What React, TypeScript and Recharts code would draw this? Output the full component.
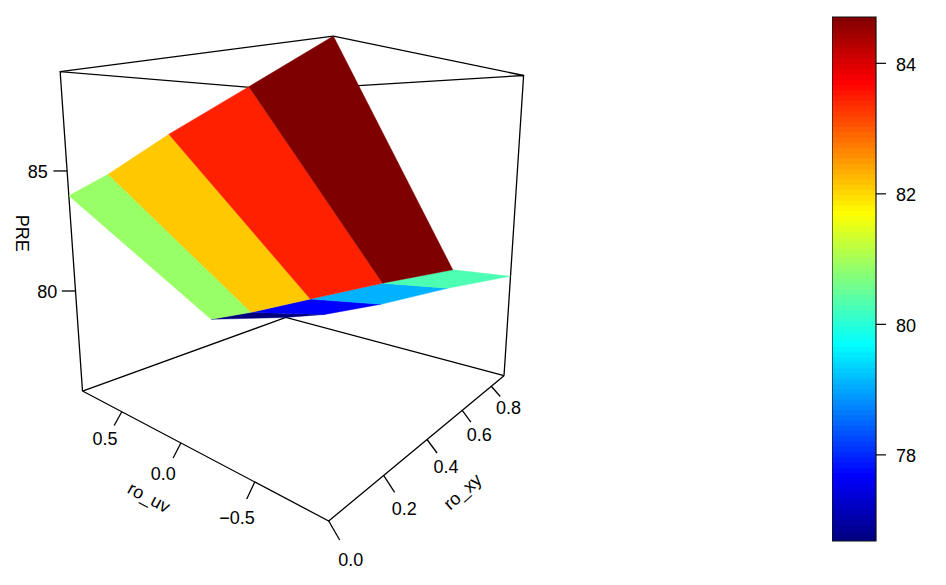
import React from "react";
import { ComposedChart, Scatter, XAxis, YAxis, ReferenceArea } from "recharts";

// ---- data (axes and surface values) ----
const roXyGrid = [0, 0.5, 0.9];
const roUvGrid = [-0.9, -0.5, 0, 0.5, 0.9];
const preAtRoXy0 = [88.87, 87.8, 86.47, 85.0, 84.0];
const preAtRoXy5 = [81.6, 80.6, 79.25, 77.89, 76.91];
const preAtRoXy9 = [80.23, 79.16, 77.65, 76.34, 75.54];
const preRows = [preAtRoXy0, preAtRoXy5, preAtRoXy9];

const roXyRange = [0, 0.9];
const roUvRange = [-0.9, 0.9];
const preRange = [75.54, 88.87];

const roXyTicks = [0, 0.2, 0.4, 0.6, 0.8];
const roUvTicks = [-0.5, 0, 0.5];
const preTicks = [80, 85];
const colorBarTicks = [78, 80, 82, 84];
const colorBarRange = [76.68, 84.71];

// ---- styles ----
const nearRowColors = ["#7F0000", "#FF2000", "#FFC800", "#99FF66"];
const farRowColors = ["#4CFFB2", "#00B2FF", "#0000FF", "#00007F"];
const jetStops = ["#00007F", "#0000FF", "#007FFF", "#00FFFF", "#7FFF7F", "#FFFF00", "#FF7F00", "#FF0000", "#7F0000"];
const BAND_COUNT = 100;
const FONT = "Liberation Sans, Arial, sans-serif";
const FS = 18;

const roXyTickEnd = [[11, 19], [11, 17], [10, 13.5], [8.7, 11.7], [9, 10.3]];
const roUvTickEnd = [[-8, 17], [-7.7, 15], [-7.7, 13.7]];
const preTickEnd = [[-13.7, 0], [-13.7, 0]];
const roXyLabelShift = [[22, 39], [20.7, 33.3], [19, 27.7], [17, 25], [17.3, 21.3]];
const roUvLabelShift = [[-17.7, 35.7], [-17.6, 30.7], [-16.8, 27]];
const preLabelShift = [[-28.3, 0.7], [-29.3, 0.7]];

// ---- perspective view of the unit box ----
function project(roXy: number, roUv: number, pre: number) {
  const u = (roXy - roXyRange[0]) / (roXyRange[1] - roXyRange[0]);
  const v = (roUv - roUvRange[0]) / (roUvRange[1] - roUvRange[0]);
  const w = (pre - preRange[0]) / (preRange[1] - preRange[0]);
  const h = 0.597 * u + 0.503 * v - 0.14 * w + 1;
  return {
    x: (476.2 * u - 204.7 * v - 42 * w + 328.7) / h,
    y: (79 * u + 66.7 * v - 490 * w + 521) / h,
  };
}

function hexToRgb(hex: string) {
  return [1, 3, 5].map((i) => parseInt(hex.slice(i, i + 2), 16));
}
function jet(t: number) {
  const p = Math.min(0.99999, t) * (jetStops.length - 1);
  const i = Math.floor(p);
  const a = hexToRgb(jetStops[i]);
  const b = hexToRgb(jetStops[i + 1]);
  const c = a.map((x, k) => Math.round(x + (b[k] - x) * (p - i)));
  return `rgb(${c[0]},${c[1]},${c[2]})`;
}

type Pt = { x: number; y: number };
const facet = (r: number, c: number): Pt[] => [
  project(roXyGrid[r], roUvGrid[c], preRows[r][c]),
  project(roXyGrid[r], roUvGrid[c + 1], preRows[r][c + 1]),
  project(roXyGrid[r + 1], roUvGrid[c + 1], preRows[r + 1][c + 1]),
  project(roXyGrid[r + 1], roUvGrid[c], preRows[r + 1][c]),
  project(roXyGrid[r], roUvGrid[c], preRows[r][c]),
];

const [X0, X1] = roXyRange;
const [U0, U1] = roUvRange;
const [Z0, Z1] = preRange;
const boxEdges: Pt[][] = [
  [project(X0, U1, Z0), project(X0, U1, Z1), project(X1, U1, Z1), project(X1, U0, Z1), project(X1, U0, Z0)],
  [project(X0, U1, Z1), project(X0, U0, Z1), project(X1, U0, Z1)],
  [project(X0, U1, Z0), project(X1, U1, Z0), project(X1, U0, Z0)],
];
const frontAxes: Pt[][] = [[project(X0, U1, Z0), project(X0, U0, Z0), project(X1, U0, Z0)]];

const shift = (p: Pt, d: number[]): Pt => ({ x: p.x + d[0], y: p.y + d[1] });
const xyBase = roXyTicks.map((t) => project(t, U0, Z0));
const uvBase = roUvTicks.map((t) => project(X0, t, Z0));
const zBase = preTicks.map((t) => project(X0, U1, t));
const tickMarks: Pt[][] = [
  ...xyBase.map((p, i) => [p, shift(p, roXyTickEnd[i])]),
  ...uvBase.map((p, i) => [p, shift(p, roUvTickEnd[i])]),
  ...zBase.map((p, i) => [p, shift(p, preTickEnd[i])]),
];

type Lab = Pt & { text: string; rot?: number };
const fmt = (n: number) => n.toFixed(1).replace("-", "\u2212");
const labels: Lab[] = [
  ...xyBase.map((p, i) => ({ ...shift(p, roXyLabelShift[i]), text: fmt(roXyTicks[i]) })),
  ...uvBase.map((p, i) => ({ ...shift(p, roUvLabelShift[i]), text: fmt(roUvTicks[i]) })),
  ...zBase.map((p, i) => ({ ...shift(p, preLabelShift[i]), text: String(preTicks[i]) })),
  { ...shift(project(X0, 0, Z0), [-32, 54.7]), text: "ro_uv", rot: 28 },
  { ...shift(project(0.45, U0, Z0), [26.2, 60]), text: "ro_xy", rot: -42 },
  { ...shift(project(X0, U1, (Z0 + Z1) / 2), [-50, -6]), text: "PRE", rot: 90 },
];

const noDot = () => <g />;
const LabelShape = (p: any) => {
  const d: Lab = p.payload;
  return (
    <text
      x={p.cx}
      y={p.cy}
      textAnchor="middle"
      dominantBaseline="central"
      fontFamily={FONT}
      fontSize={FS}
      fill="#000"
      transform={d.rot ? `rotate(${d.rot} ${p.cx} ${p.cy})` : undefined}
    >
      {d.text}
    </text>
  );
};

const renderStroke = (pts: Pt[], id: string) => (
  <Scatter
    key={id}
    data={pts}
    dataKey="y"
    isAnimationActive={false}
    shape={noDot}
    line={{ stroke: "#000", strokeWidth: 1.3, fill: "none" }}
  />
);

const renderFacet = (pts: Pt[], color: string, id: string) => (
  <Scatter
    key={id}
    data={pts}
    dataKey="y"
    isAnimationActive={false}
    shape={noDot}
    line={{ stroke: color, strokeWidth: 0.4, fill: color }}
  />
);

const bands = Array.from({ length: BAND_COUNT }, (_, i) => i);
const barLo = colorBarRange[0];
const barHi = colorBarRange[1];

export default function App() {
  return (
    <div style={{ position: "absolute", left: 0, top: 0, width: 946, height: 585, background: "#fff" }}>
      <div style={{ position: "absolute", left: 0, top: 0 }}>
        <ComposedChart width={946} height={585} margin={{ top: 0, right: 0, bottom: 0, left: 0 }}>
          <XAxis type="number" dataKey="x" domain={[0, 946]} hide allowDataOverflow />
          <YAxis type="number" dataKey="y" domain={[0, 585]} reversed hide allowDataOverflow />
          {boxEdges.map((e, i) => renderStroke(e, `box${i}`))}
          {[3, 2, 1, 0].map((c) => renderFacet(facet(1, c), farRowColors[c], `far${c}`))}
          {[3, 2, 1, 0].map((c) => renderFacet(facet(0, c), nearRowColors[c], `near${c}`))}
          {frontAxes.map((e, i) => renderStroke(e, `axis${i}`))}
          {tickMarks.map((e, i) => renderStroke(e, `tick${i}`))}
          <Scatter data={labels} dataKey="y" isAnimationActive={false} shape={LabelShape} />
        </ComposedChart>
      </div>
      <div style={{ position: "absolute", left: 832, top: 12 }}>
        <ComposedChart width={110} height={534} margin={{ top: 5, right: 0, bottom: 5, left: 0 }}>
          <XAxis type="number" dataKey="x" domain={[0, 1]} hide allowDataOverflow />
          <YAxis
            type="number"
            dataKey="v"
            orientation="right"
            domain={colorBarRange}
            ticks={colorBarTicks}
            width={66}
            axisLine={false}
            tickSize={10}
            tickMargin={10}
            allowDataOverflow
            tickLine={{ stroke: "#000", strokeWidth: 1.2 }}
            tick={{ fill: "#000", fontSize: FS, fontFamily: FONT, dy: 1 }}
            interval={0}
          />
          {bands.map((i) => (
            <ReferenceArea
              key={i}
              x1={0}
              x2={1}
              y1={barLo + ((barHi - barLo) * i) / BAND_COUNT}
              y2={barHi}
              fill={jet((i + 0.5) / BAND_COUNT)}
              fillOpacity={1}
              stroke="none"
              ifOverflow="visible"
            />
          ))}
          <ReferenceArea
            x1={0}
            x2={1}
            y1={barLo}
            y2={barHi}
            fill="none"
            stroke="#111"
            strokeWidth={1.2}
            ifOverflow="visible"
          />
        </ComposedChart>
      </div>
    </div>
  );
}
